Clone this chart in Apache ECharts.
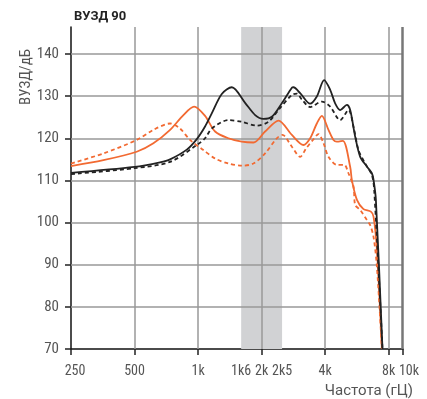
<!DOCTYPE html>
<html>
<head>
<meta charset="utf-8">
<script src="https://cdn.jsdelivr.net/npm/echarts@6/dist/echarts.min.js"></script>
<style>
  html, body { margin: 0; padding: 0; background: #fff; }
  #chart { width: 427px; height: 399px; }
</style>
</head>
<body>
<div id="chart"></div>
<script>
// частоты, Гц
const tickHz = [250, 500, 1000, 2000, 4000, 8000];
const tickLabels = ['250', '500', '1k', '2k', '4k', '8k'];
const bandHz = [1600, 2500];
const bandLabels = ['1k6', '2k5'];
const axisEndHz = 9350;
const axisEndLabel = '10k';
const yTicks = [70, 80, 90, 100, 110, 120, 130, 140];

const blackSolidHz = [250, 500, 660, 737, 884, 986, 1079, 1161, 1295, 1445, 1670, 1864, 2039, 2236, 2493, 2782, 2830, 3045, 3396, 3652, 3956, 4225, 4460, 4711, 5069, 5256, 5549, 5862, 6307, 6658, 6780, 6956, 7475];
const blackSolidDb = [111.8, 113.2, 114.3, 115.0, 117.3, 119.8, 122.8, 125.9, 130.5, 132.1, 128.4, 125.5, 124.6, 125.1, 128.3, 132.0, 132.1, 130.7, 128.2, 129.9, 133.8, 131.5, 128.3, 126.7, 127.9, 126.7, 120.4, 115.6, 113.3, 111.7, 110.1, 105.4, 70];

const blackDashHz = [250, 500, 737, 986, 1079, 1161, 1392, 1611, 1898, 2154, 2403, 2782, 2940, 3102, 3396, 3857, 4225, 4711, 5157, 5450, 5754, 6190, 6658, 6830, 7475];
const blackDashDb = [111.5, 112.9, 114.4, 118.4, 120.0, 122.3, 124.3, 123.9, 123.0, 123.9, 126.7, 130.3, 130.6, 129.2, 127.4, 128.7, 127.5, 124.3, 126.7, 122.7, 117.2, 114.0, 111.3, 107.7, 70];

const orangeSolidHz = [250, 356, 512, 614, 737, 852, 957, 1079, 1204, 1392, 1611, 1829, 2077, 2403, 2782, 3156, 3396, 3652, 3857, 4147, 4380, 4544, 4853, 5256, 5352, 5657, 6077, 6588, 6780, 7034, 7427];
const orangeSolidDb = [113.4, 114.8, 116.8, 118.8, 122.0, 125.5, 127.5, 125.3, 121.6, 120.0, 119.2, 119.0, 121.6, 124.2, 120.8, 118.4, 120.0, 123.5, 125.3, 122.0, 119.6, 119.2, 119.4, 113.2, 110.1, 105.4, 103.2, 102.6, 101.4, 93.5, 70];

const orangeDashHz = [250, 356, 512, 614, 737, 822, 916, 1059, 1204, 1392, 1611, 1829, 2077, 2360, 2510, 2782, 3045, 3250, 3500, 3717, 3930, 4147, 4544, 4922, 5157, 5450, 5549, 5862, 6307, 6537, 6780, 7034, 7427];
const orangeDashDb = [114.0, 116.4, 119.6, 122.0, 123.5, 122.3, 119.6, 117.2, 115.2, 114.0, 113.5, 114.0, 116.4, 120.0, 120.8, 118.0, 115.6, 117.6, 119.6, 121.0, 118.8, 115.6, 113.7, 113.7, 111.7, 108.5, 104.2, 103.0, 100.6, 99.4, 96.6, 89.5, 70];

// логарифмическая шкала: октавы от 250 Гц
const oct = f => Math.log2(f / 250);
const pairs = (hz, db) => hz.map((f, i) => [oct(f), db[i]]);

const labelHz = tickHz.concat(bandHz, [axisEndHz]);
const labelText = tickLabels.concat(bandLabels, [axisEndLabel]);
const fmtX = v => {
  let best = 0;
  labelHz.forEach((f, i) => { if (Math.abs(oct(f) - v) < Math.abs(oct(labelHz[best]) - v)) best = i; });
  const t = labelText[best];
  // крайние подписи чуть сдвинуты вправо, как в оригинале
  if (t === '250') return '{l|' + t + '}';
  if (t === '10k') return '{e|' + t + '}';
  return t;
};

const orange = '#f26a32';
const black = '#222';
const font = '"Roboto Condensed", "Roboto", sans-serif';
const lblStyle = { color: '#555', fontSize: 15, fontFamily: font };
const xLblStyle = { color: '#555', fontSize: 14, fontFamily: font };

const chart = echarts.init(document.getElementById('chart'), null, { renderer: 'canvas' });

const lineSeries = (name, hz, db, color, dashed) => ({
  name,
  type: 'line',
  data: pairs(hz, db),
  showSymbol: false,
  smooth: 0.3,
  z: 5,
  lineStyle: { color, width: 1.8, type: dashed ? [4, 3] : 'solid' },
  silent: true
});

chart.setOption({
  animation: false,
  title: {
    text: 'ВУЗД 90',
    left: 69,
    top: 5,
    textStyle: { fontSize: 13, fontWeight: 'bold', color: '#222', fontFamily: '"Roboto", sans-serif' }
  },
  grid: { left: 71, right: 24, top: 27, bottom: 50, containLabel: false },
  xAxis: {
    type: 'value',
    min: 0,
    max: oct(axisEndHz),
    axisLine: { lineStyle: { color: '#111', width: 1.5 } },
    axisTick: {
      length: 6,
      lineStyle: { color: '#222', width: 1.5 },
      customValues: tickHz.concat([axisEndHz]).map(oct)
    },
    axisLabel: Object.assign({
      customValues: labelHz.map(oct),
      formatter: fmtX,
      margin: 15,
      hideOverlap: false,
      rich: {
        l: Object.assign({ padding: [0, 0, 0, 8] }, xLblStyle),
        e: Object.assign({ padding: [0, 0, 0, 12] }, xLblStyle)
      }
    }, xLblStyle),
    splitLine: { show: false }
  },
  yAxis: {
    type: 'value',
    min: 70,
    max: 146.4,
    interval: 10,
    axisLine: { show: true, lineStyle: { color: '#111', width: 1.5 } },
    axisTick: { show: true, length: 6, lineStyle: { color: '#222', width: 1.5 }, customValues: yTicks },
    axisLabel: Object.assign({ customValues: yTicks, margin: 12 }, lblStyle),
    splitLine: { show: false }
  },
  graphic: [
    {
      type: 'text', x: 26, y: 77, rotation: Math.PI / 2,
      style: { text: 'ВУЗД/дБ', fill: '#555', fontSize: 15, fontFamily: font, align: 'center', verticalAlign: 'middle' }
    },
    {
      type: 'text', x: 413, y: 391,
      style: { text: 'Частота (гЦ)', fill: '#555', fontSize: 15, fontFamily: '"Roboto", sans-serif', align: 'right', verticalAlign: 'middle' }
    }
  ],
  series: [
    {
      type: 'line', data: [], z: 1, silent: true,
      markArea: {
        silent: true,
        itemStyle: { color: '#d1d2d4', opacity: 1 },
        data: [[{ xAxis: oct(bandHz[0]) }, { xAxis: oct(bandHz[1]) }]]
      }
    },
    {
      type: 'line', data: [], z: 2, silent: true,
      markLine: {
        silent: true, symbol: 'none', label: { show: false }, animation: false,
        lineStyle: { color: '#999', width: 1.5, type: 'solid' },
        data: yTicks.slice(1).map(v => ({ yAxis: v }))
          .concat(tickHz.slice(1).map(f => ({ xAxis: oct(f) })))
          .concat([{ xAxis: oct(axisEndHz), lineStyle: { color: '#777', width: 2.5 } }])
      }
    },
    lineSeries('orange-dash', orangeDashHz, orangeDashDb, orange, true),
    lineSeries('orange', orangeSolidHz, orangeSolidDb, orange, false),
    lineSeries('black-dash', blackDashHz, blackDashDb, black, true),
    lineSeries('black', blackSolidHz, blackSolidDb, black, false)
  ]
});
</script>
</body>
</html>
